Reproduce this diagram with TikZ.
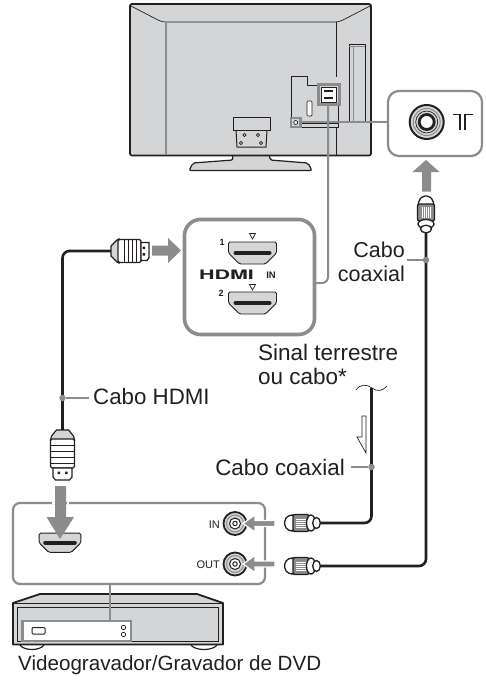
\documentclass[tikz,border=0pt]{standalone}
\usepackage{fontspec}
\setmainfont{Liberation Sans}
\newfontfamily\logofont{TeX Gyre Heros}
\definecolor{hi}{HTML}{8A8C8E}
\definecolor{body}{HTML}{D4D5D6}
\definecolor{ink}{HTML}{231F20}
\tikzset{
 lbl/.style={font=\fontsize{21.5}{24}\selectfont,text=ink,inner sep=0pt},
 thin ink/.style={draw=ink,line width=.7pt},
 cable/.style={draw=ink,line width=2.6pt,rounded corners=7pt},
 leader/.style={draw=hi,line width=2pt},
 frameb/.style={draw=hi,line width=2.2pt},
 arrowf/.style={fill=hi,draw=none},
 dotm/.style={circle,fill=hi,inner sep=0pt,minimum size=6.5pt},
 halo/.style={fill=hi,draw=white,line width=1.2pt},
}
\newcommand{\hdmiport}[3]{% cx cy scale
 \begin{scope}[shift={(#1,#2)},scale=#3]
  \draw[thin ink,line width=.9pt,fill=body,rounded corners=1.5pt] (-24,-9)--(24,-9)--(24,2)--(13,13)--(-13,13)--(-24,2)--cycle;
  \draw[ink,line width=4pt,line cap=round] (-17,2)--(17,2);
 \end{scope}}
\newcommand{\rcaplug}[2]{% horizontal plug, left x, cy
 \begin{scope}[shift={(#1,#2)}]
  \draw[draw=ink,line width=1.3pt,fill=white,rounded corners=2pt] (0,0)--(3,-7)--(10,-8)--(12,-8)--(12,8)--(10,8)--(3,7)--cycle;
  \draw[draw=ink,line width=1.3pt,fill=hi,rounded corners=2pt] (9,-8.5) rectangle (25,8.5);
  \foreach \yy in {-4,-2,0,2,4}{\draw[white,line width=.6pt] (12,\yy)--(22,\yy);}
  \draw[draw=ink,line width=1.3pt,fill=white] (27,0) ellipse (4.5 and 8);
  \draw[draw=ink,line width=1.3pt,fill=white] (32.5,0) ellipse (3.8 and 5.5);
 \end{scope}}
\newcommand{\rcajack}[2]{% cx cy
 \draw[draw=ink,line width=1.8pt,fill=body] (#1,#2) circle (11.5);
 \draw[draw=hi,line width=1pt] (#1,#2) circle (8.5);
 \draw[draw=ink,line width=1pt,fill=white] (#1,#2) circle (5.5);
 \draw[draw=ink,line width=1pt,fill=white] (#1,#2) circle (2.2);
}
\begin{document}
\begin{tikzpicture}[x=1pt,y=-1pt]
\useasboundingbox (0,0) rectangle (485,685);
\fill[white] (0,0) rectangle (485,685);
% TV stand
\draw[thin ink,line width=1.2pt,fill=body,rounded corners=2pt] (232,152)--(233,160)--(193,163)--(189,170.5)--(312,170.5)--(308,163)--(270,160)--(269,152)--cycle;
% TV
\draw[draw=ink,line width=1.7pt,fill=body,rounded corners=2pt] (130,4) rectangle (371,155.5);
\draw[thin ink] (131,6)--(158,20) .. controls (161,21.5) and (163,22) .. (166,22)--(335,22) .. controls (338,22) and (340,21.5) .. (343,20)--(370,6);
\draw[hi,line width=1.2pt] (166,22)--(166,155);
\draw[thin ink] (336,22)--(336,77);
\draw[thin ink] (336,128)--(336,155);
\draw[thin ink,fill=body] (349,44) rectangle (365,122);
\draw[hi,line width=1pt] (353,46)--(353,121);
\draw[hi,line width=.8pt] (349,46.5)--(365,46.5);
% stand bracket
\draw[thin ink,line width=1pt] (233,130)--(233,117)--(270,117)--(270,130)--cycle;
\draw[thin ink,line width=1pt] (236,130)--(237,147)--(266,147)--(267,130);
\draw[thin ink] (244.5,135) circle (1.7) (258,135) circle (1.7) (241,143) circle (1.7) (261,143) circle (1.7);
% connector panel
\draw[thin ink,line width=1pt] (291,118)--(291,76.5)--(307,76.5)--(307,85.5)--(318,85.5);
\draw[thin ink,line width=1pt] (338,105)--(338,127)--(301,127);
\draw[thin ink] (301,123.5)--(338,123.5);
\draw[thin ink,fill=white,rounded corners=1pt] (307,101) rectangle (312,116);
% HDMI highlight
\draw[draw=hi,line width=3pt,fill=body] (318.5,84.5) rectangle (339,104);
\draw[draw=ink,line width=.9pt,fill=white] (321,87) rectangle (336,102);
\draw[ink,line width=2pt] (324,90.5)--(333,90.5) (324,98)--(333,98);
% antenna highlight
\draw[draw=hi,line width=2.4pt,fill=body] (291,118) rectangle (300.5,127);
\draw[draw=ink,line width=.7pt,fill=white] (295.7,122.5) circle (2);
% antenna leader + inset
\draw[leader] (300.5,121.5)--(388,121.5);
\node[frameb,draw,fill=white,minimum width=94pt,minimum height=65pt,inner sep=0pt,rounded corners=11pt] (antbox) at (435,123.5) {};
\draw[draw=ink,line width=2pt,fill=body] (426.7,122) circle (17);
\draw[hi,line width=1pt] (426.7,122) circle (13.5);
\draw[ink,line width=.7pt] (426.7,122) circle (11);
\draw[draw=ink,line width=2.8pt,fill=white] (426.7,122) circle (7.5);
\draw[ink,line width=1.4pt] (453,114.5)--(460,114.5)--(460,130);
\draw[ink,line width=1.4pt] (473,114.5)--(465,114.5)--(465,130);
% up arrow
\fill[arrowf] (426,160)--(439.5,172)--(431,172)--(431,191.5)--(422,191.5)--(422,172)--(412.5,172)--cycle;
% coax cables
\coordinate (out) at (320,566);
\coordinate (inp) at (320,523);
\draw[cable] (426,232)--(426,566)--(out);
\draw[cable] (371.5,388)--(371.5,523)--(inp);
% up plug
\begin{scope}[shift={(426,196)}]
 \draw[draw=ink,line width=1.3pt,fill=white,rounded corners=2pt] (-8,10)--(-7,4)--(-3,0)--(3,0)--(7,4)--(8,10);
 \draw[draw=ink,line width=1.3pt,fill=hi,rounded corners=2pt] (-8.5,8) rectangle (8.5,25);
 \foreach \xx in {-4,-2,0,2,4}{\draw[white,line width=.6pt] (\xx,11)--(\xx,22);}
 \draw[draw=ink,line width=1.3pt,fill=white] (0,28) ellipse (8 and 4.5);
 \draw[draw=ink,line width=1.3pt,fill=white] (0,33) ellipse (5.5 and 3.8);
\end{scope}
% coax labels
\node[lbl,anchor=east,align=right] (cc1) at (405,262) {Cabo\\coaxial};
\node[dotm] (d1) at (426,260) {};
\draw[leader] (407,260) -- (d1);
\node[lbl,font=\fontsize{22.4}{24}\selectfont,anchor=east] (cc2) at (345,467) {Cabo coaxial};
\node[dotm] (d2) at (371.5,467) {};
\draw[leader] (351,467) -- (d2);
% hdmi inset + leader
\draw[leader] (328,104)--(328,277) arc (0:90:6) -- (316,283);
\node[draw=hi,line width=3.6pt,fill=white,rounded corners=16pt,minimum width=130pt,minimum height=115pt,inner sep=0pt] (hbox) at (249.5,277) {};
\hdmiport{252.5}{251}{1}
\hdmiport{252.5}{301}{1}
\node[font=\bfseries\fontsize{9}{10}\selectfont,text=ink,inner sep=0pt] (n1) at (222,242) {1};
\node[font=\bfseries\fontsize{9}{10}\selectfont,text=ink,inner sep=0pt] (n2) at (221,293) {2};
\draw[ink,line width=.7pt] (249.5,233.5)--(255.5,233.5)--(252.5,239)--cycle;
\draw[ink,line width=.7pt] (249.5,284.5)--(255.5,284.5)--(252.5,290)--cycle;
\node[font=\logofont\bfseries\fontsize{13}{14}\selectfont,text=ink,inner sep=0pt,xscale=1.65] (hl) at (226.5,274.5) {HDMI};
\node[font=\bfseries\fontsize{9.5}{10}\selectfont,text=ink,inner sep=0pt] (inl) at (271,275) {IN};
% hdmi arrow + plug
\fill[arrowf] (181,250.5)--(168,238)--(168,245.5)--(152,245.5)--(152,255.5)--(168,255.5)--(168,263)--cycle;
\draw[cable] (112,251)--(62.5,251)--(62.5,431);
\begin{scope}[shift={(111,251)}]
 \draw[draw=ink,line width=1.2pt,fill=body] (0,-5)--(6,-11)--(8,-12)--(8,12)--(6,11)--(0,5)--cycle;
 \draw[draw=ink,line width=1.2pt,fill=white,rounded corners=1.5pt] (7,-11.5) rectangle (30,11.5);
 \foreach \xx in {13,17,21,25}{\draw[ink,line width=.7pt] (\xx,-11)--(\xx,11);}
 \draw[draw=ink,line width=1.2pt,fill=white] (30,-8.5)--(38,-8.5)--(38,7)--(36,9.5)--(30,9.5)--cycle;
 \fill[ink] (31.5,-4.5) rectangle (34,-2) (31.5,2) rectangle (34,4.5);
\end{scope}
% cabo hdmi label
\node[dotm] (d3) at (62.5,398) {};
\node[lbl,font=\fontsize{22.3}{24}\selectfont,anchor=west] (chd) at (93,397) {Cabo HDMI};
\draw[leader] (d3) -- (89,398);
% vertical hdmi plug
\begin{scope}[shift={(62.5,430)}]
 \draw[draw=ink,line width=1.2pt,fill=body] (-6,0)--(-11,6)--(-12,10)--(12,10)--(11,6)--(6,0)--cycle;
 \draw[draw=ink,line width=1.2pt,fill=white,rounded corners=1.5pt] (-12,9) rectangle (12,38);
 \foreach \yy in {15,21,27,33}{\draw[ink,line width=.8pt] (-12,\yy)--(12,\yy);}
 \draw[draw=ink,line width=1.2pt,fill=white] (-9.5,38)--(9.5,38)--(9.5,47)--(7,50)--(-7,50)--(-9.5,47)--cycle;
 \fill[ink] (-5,41.5) rectangle (-2.5,44) (2.5,41.5) rectangle (5,44);
\end{scope}
% lower inset
\node[frameb,draw,fill=white,minimum width=252pt,minimum height=81pt,inner sep=0pt,rounded corners=7pt] (rbox) at (139,543.5) {};
\hdmiport{60}{541}{.87}
\fill[arrowf] (60,539)--(46.5,517)--(55,517)--(55,486)--(66,486)--(66,517)--(74,517)--cycle;
\draw[white,line width=1.2pt] (52,503)--(54.5,503) (66.5,503)--(69,503);
\rcajack{235}{523.5}
\rcajack{235}{564}
\node[font=\fontsize{11}{12}\selectfont,text=ink,inner sep=0pt,anchor=east] (ins) at (220,525) {IN};
\node[font=\fontsize{11}{12}\selectfont,text=ink,inner sep=0pt,anchor=east] (outs) at (220,565) {OUT};
\draw[halo] (243,523.5)--(255,515)--(255,520.5)--(275,520.5)--(275,526.5)--(255,526.5)--(255,532)--cycle;
\draw[halo] (243,564)--(255,555.5)--(255,561)--(275,561)--(275,567)--(255,567)--(255,572.5)--cycle;
\rcaplug{284}{523}
\rcaplug{284}{566}
% recorder
\draw[draw=ink,line width=1.2pt,fill=white] (20,645) .. controls (24,651) and (40,651) .. (44,645);
\draw[draw=ink,line width=1.2pt,fill=white] (191,645) .. controls (195,651) and (213,651) .. (217,645);
\draw[draw=ink,line width=1.8pt,fill=body,line join=round] (13,603)--(40,594)--(197,594)--(223,603)--(223,644.5)--(13,644.5)--cycle;
\draw[thin ink] (13,603)--(223,603);
\draw[draw=ink,line width=.7pt] (17,607) rectangle (218.5,641);
\draw[draw=hi,line width=2.4pt,fill=white] (22.5,621) rectangle (131,641);
\draw[leader] (110,584)--(110,621);
\draw[draw=ink,line width=1pt,rounded corners=1pt] (32,627.5) rectangle (45,634);
\draw[ink,line width=.7pt] (123.5,627.5) circle (2.2) (123.5,634.5) circle (2.2);
% texts
\node[lbl,font=\fontsize{22.5}{24}\selectfont,anchor=west,align=left] (sin) at (258,364) {Sinal terrestre\\ou cabo*};
\node[lbl,font=\fontsize{20.6}{24}\selectfont,anchor=west] (vid) at (18,665) {Videogravador/Gravador de DVD};
% tilde and outline arrow
\draw[thin ink] (356,390) .. controls (360,384) and (367,384) .. (372,388) .. controls (377,392) and (383,391) .. (387,386);
\draw[thin ink] (362,416)--(366,416)--(366,453)--(357,437)--(362,437)--cycle;
\end{tikzpicture}
\end{document}
